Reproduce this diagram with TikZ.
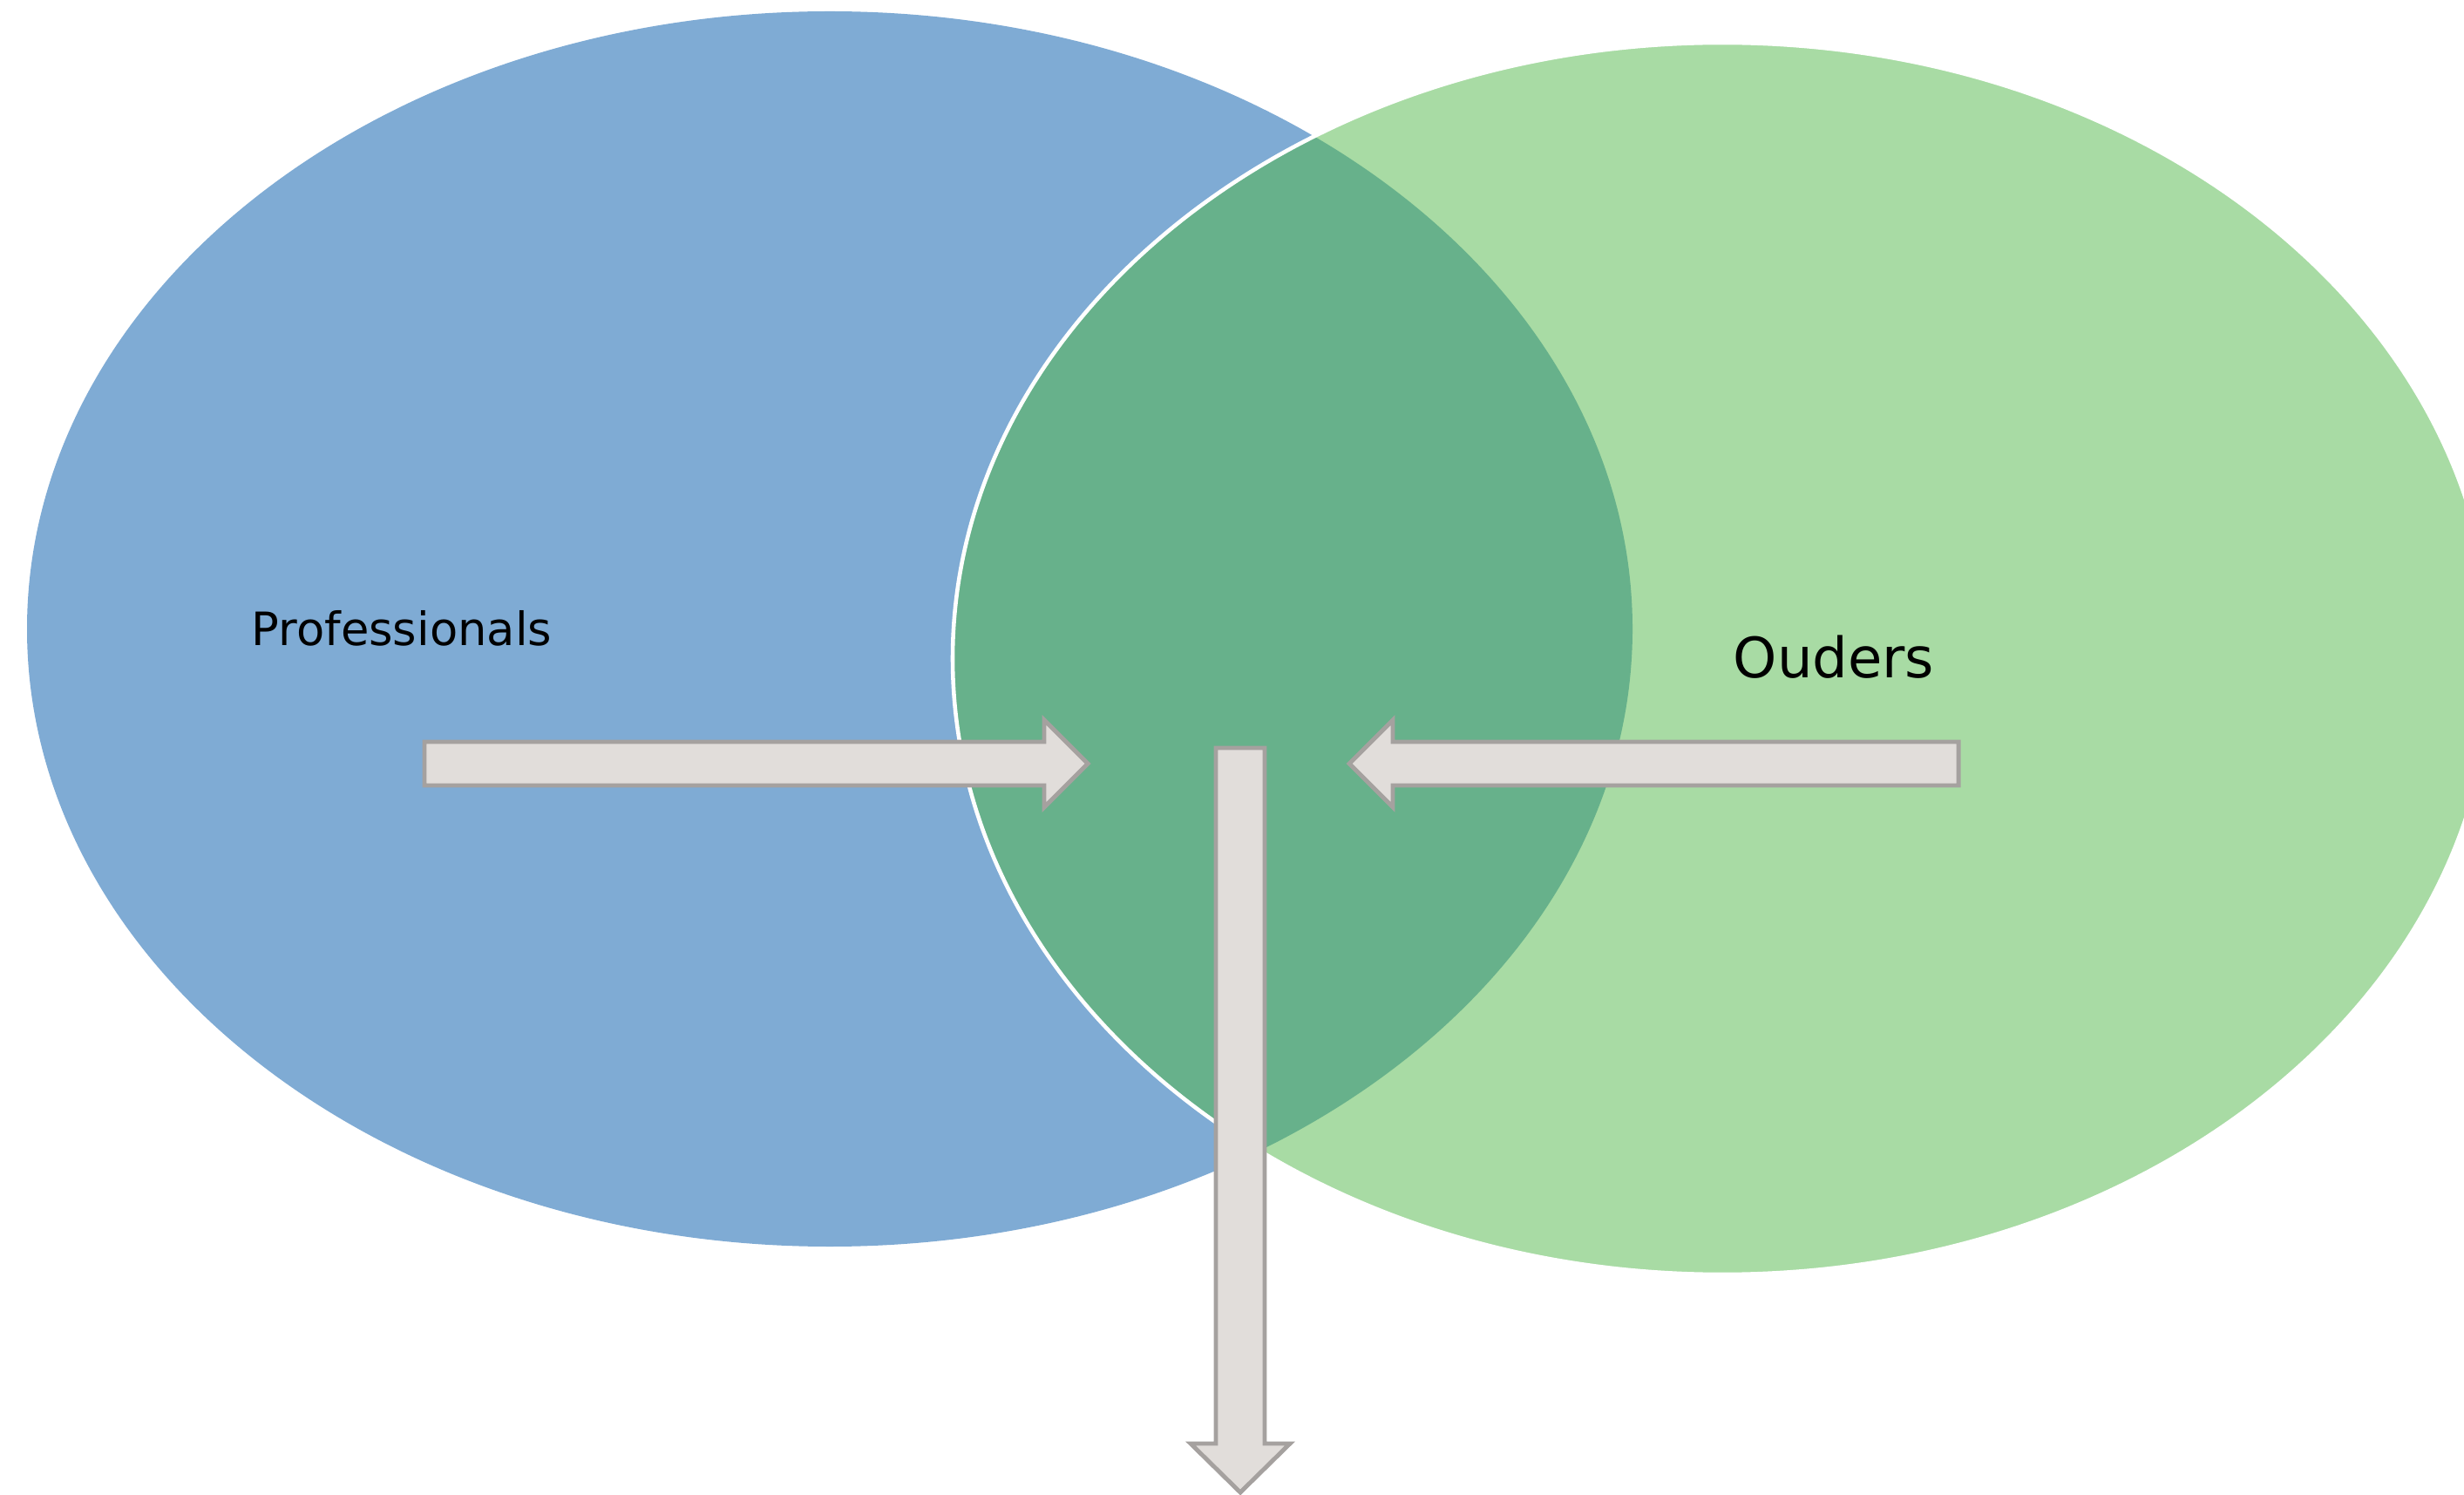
\documentclass[tikz,border=0pt]{standalone}
\usepackage{fontspec}
\setmainfont{DejaVu Sans}
\usetikzlibrary{positioning}
\definecolor{vblue}{HTML}{7FABD4}
\definecolor{vgreen}{HTML}{A8DBA4}
\definecolor{vdark}{HTML}{67B18B}
\definecolor{afill}{HTML}{E1DDDA}
\definecolor{aline}{HTML}{A5A19F}

\begin{document}
\begin{tikzpicture}[
  blockarr/.style={fill=afill, draw=aline, line width=1.4pt, line join=miter},
  lbl/.style={anchor=base, inner sep=0pt, text=black},
]
  \useasboundingbox (0,0) rectangle (28.27,17.14);

  % the two sets
  \fill[vblue] (9.52,9.925) ellipse [x radius=9.21, y radius=7.085];
  \fill[vgreen] (19.76,9.585) ellipse [x radius=8.83, y radius=7.065];
  \begin{scope}
    \clip (9.52,9.925) ellipse [x radius=9.21, y radius=7.085];
    \fill[vdark] (19.76,9.585) ellipse [x radius=8.83, y radius=7.065];
  \end{scope}
  \draw[white, line width=1.3pt] (19.76,9.585) ellipse [x radius=8.83, y radius=7.065];

  \node[lbl, font=\fontsize{15}{18}\selectfont] (prof) at (4.61,9.73) {Professionals};
  \node[lbl, font=\fontsize{18.2}{22}\selectfont] (ouders) at (21.04,9.36) {Ouders};

  % block arrows
  \draw[blockarr] (4.87,8.13) -- (11.98,8.13) -- (11.98,7.88) -- (12.48,8.38)
    -- (11.98,8.88) -- (11.98,8.63) -- (4.87,8.63) -- cycle;
  \draw[blockarr] (22.47,8.13) -- (15.98,8.13) -- (15.98,7.88) -- (15.48,8.38)
    -- (15.98,8.88) -- (15.98,8.63) -- (22.47,8.63) -- cycle;
  \draw[blockarr] (13.95,8.56) -- (13.95,0.58) -- (13.66,0.58) -- (14.23,0.02)
    -- (14.80,0.58) -- (14.51,0.58) -- (14.51,8.56) -- cycle;
\end{tikzpicture}
\end{document}
